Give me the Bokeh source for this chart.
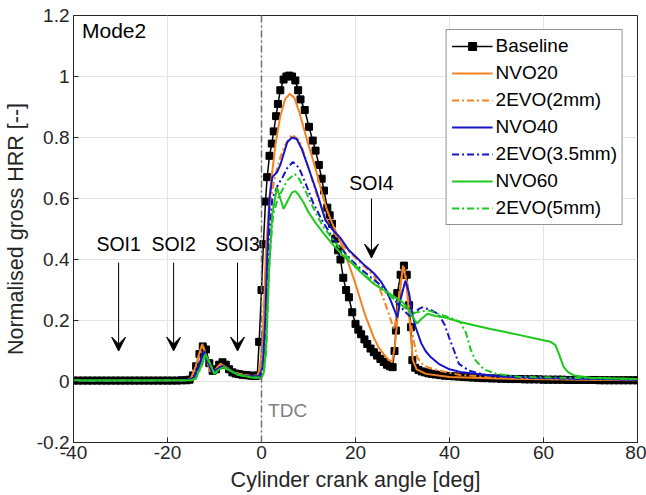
from bokeh.plotting import figure
from bokeh.models import (Span, Arrow, VeeHead, Label, FixedTicker, Range1d)
from bokeh.embed import file_html
from bokeh.resources import INLINE

FONT = "Liberation Sans"
INK = "#262626"

# ---------------- data ----------------
base_x = [-40, -39, -38, -37, -36, -35, -34, -33, -32, -31, -30, -29, -28, -27, -26, -25, -24, -23, -22, -21,
          -20, -19, -18, -17, -16, -15.3, -14.6, -13.9, -13.2, -12.5, -11.8, -11.1, -10.4, -9.7, -9.0, -8.3,
          -7.6, -6.9, -6.2, -5.5, -4.8, -4.1, -3.4, -2.7, -2.0, -1.3, -0.9, -0.5, 0.0, 0.4, 0.85, 1.2, 1.7, 2.2,
          2.6, 3.1, 3.5, 4.0, 4.7, 5.3, 5.9, 6.5, 7.2, 7.8, 8.3, 9.2, 10.1, 10.9, 11.5, 12.2, 12.8, 13.3, 14.0,
          14.5, 15.0, 15.7, 16.3, 16.8, 17.4, 18.0, 18.6, 19.3, 20.0, 20.6, 21.2, 21.9, 22.5, 23.2, 23.9, 24.6,
          25.3, 26.0, 26.7, 27.3, 27.9, 28.3, 28.6, 28.9, 29.6, 30.3, 30.9, 31.4, 31.8, 32.1, 32.7, 33.4, 34.1,
          34.8, 35.5, 36.2, 37.0, 38, 39, 40, 41, 42, 43, 44, 45, 46, 47, 48, 49, 50, 51, 52, 53, 54, 55, 56, 57,
          58, 59, 60, 61, 62, 63, 64, 65, 66, 67, 68, 69, 70, 71, 72, 73, 74, 75, 76, 77, 78, 79, 80]
base_y = [0.003, 0.003, 0.003, 0.003, 0.003, 0.003, 0.003, 0.003, 0.003, 0.003, 0.003, 0.003, 0.003, 0.003,
          0.003, 0.003, 0.003, 0.003, 0.003, 0.003, 0.003, 0.003, 0.003, 0.004, 0.004, 0.006, 0.02, 0.05, 0.09,
          0.115, 0.105, 0.06, 0.035, 0.04, 0.055, 0.063, 0.055, 0.04, 0.03, 0.026, 0.024, 0.022, 0.021, 0.02,
          0.019, 0.018, 0.02, 0.13, 0.3, 0.45, 0.59, 0.67, 0.74, 0.78, 0.82, 0.87, 0.91, 0.955, 0.99, 1.0, 1.003,
          1.0, 0.987, 0.955, 0.925, 0.89, 0.835, 0.79, 0.757, 0.71, 0.665, 0.626, 0.57, 0.545, 0.517, 0.468,
          0.43, 0.40, 0.34, 0.30, 0.276, 0.227, 0.189, 0.17, 0.155, 0.138, 0.123, 0.108, 0.096, 0.085, 0.074,
          0.064, 0.055, 0.05, 0.047, 0.10, 0.167, 0.29, 0.35, 0.38, 0.35, 0.25, 0.178, 0.07, 0.045, 0.038, 0.033,
          0.03, 0.027, 0.025, 0.023, 0.021, 0.019, 0.018, 0.017, 0.016, 0.015, 0.014, 0.013, 0.012, 0.011, 0.011,
          0.010, 0.010, 0.009, 0.009, 0.008, 0.008, 0.008, 0.007, 0.007, 0.007, 0.007, 0.006, 0.006, 0.006,
          0.006, 0.006, 0.005, 0.005, 0.005, 0.005, 0.005, 0.005, 0.005, 0.004, 0.004, 0.004, 0.004, 0.004,
          0.004, 0.004, 0.004, 0.004, 0.004]

nvo20_x = [-40, -16, -15, -14, -13.3, -12.6, -11.8, -11, -10.3, -9.5, -8.7, -7.5, -6, -4, -2, -0.8, -0.3, 0.3,
           1, 2, 3, 4, 5, 6, 7, 8, 9, 10, 11, 12, 13, 14, 15, 16, 17, 18, 19, 20, 21, 22, 23, 24, 25, 26, 27,
           27.8, 28.4, 29.3, 30.1, 30.8, 31.5, 32.2, 33, 35, 40, 50, 60, 80]
nvo20_y = [0.003, 0.004, 0.01, 0.05, 0.09, 0.123, 0.08, 0.035, 0.03, 0.045, 0.058, 0.045, 0.03, 0.022, 0.018,
           0.02, 0.05, 0.15, 0.45, 0.65, 0.78, 0.87, 0.925, 0.943, 0.93, 0.885, 0.83, 0.775, 0.725, 0.67, 0.61,
           0.56, 0.52, 0.485, 0.45, 0.41, 0.365, 0.32, 0.27, 0.22, 0.18, 0.14, 0.11, 0.09, 0.072, 0.063, 0.12,
           0.27, 0.38, 0.33, 0.2, 0.07, 0.04, 0.025, 0.015, 0.01, 0.007, 0.004]

evo2_x = [-40, -16, -15, -14, -13.2, -12.4, -11.6, -10.8, -10, -9.3, -8.5, -7.3, -6, -4, -2, -0.5, 0, 0.5, 1,
          1.5, 2, 3, 4, 5, 6.5, 8, 9, 10, 11, 12, 13, 14, 15, 16, 18, 20, 22, 23, 24, 25, 26, 27, 28.2, 28.8,
          29.5, 30.3, 31, 31.7, 32.3, 33.1, 34, 35.3, 37.7, 42, 50, 60, 80]
evo2_y = [0.003, 0.004, 0.01, 0.045, 0.085, 0.115, 0.08, 0.035, 0.03, 0.045, 0.055, 0.045, 0.03, 0.022, 0.018,
          0.02, 0.04, 0.12, 0.35, 0.52, 0.6, 0.68, 0.735, 0.775, 0.81, 0.79, 0.75, 0.70, 0.65, 0.6, 0.56, 0.525,
          0.5, 0.475, 0.435, 0.405, 0.375, 0.36, 0.345, 0.31, 0.27, 0.225, 0.17, 0.22, 0.32, 0.375, 0.32, 0.2,
          0.14, 0.08, 0.06, 0.047, 0.036, 0.022, 0.013, 0.009, 0.005]

nvo40_x = [-40, -16, -14.5, -13.5, -12.3, -11.5, -10.5, -9.5, -8.3, -7, -5, -3, -1, -0.3, 0.3, 0.8, 1.2, 1.7,
           2.3, 3.3, 4, 4.8, 5.5, 6.5, 7.5, 8.5, 10, 11, 12, 13.6, 15, 16.8, 18.6, 20, 22, 23.9, 25.3, 26.5,
           27.5, 28.9, 29.6, 30.6, 31.4, 32.1, 32.8, 34, 34.9, 36, 37.7, 40, 42.7, 50, 60, 80]
nvo40_y = [0.003, 0.004, 0.01, 0.045, 0.10, 0.07, 0.03, 0.04, 0.05, 0.04, 0.022, 0.018, 0.016, 0.02, 0.06, 0.2,
           0.4, 0.6, 0.67, 0.686, 0.71, 0.75, 0.785, 0.80, 0.795, 0.765, 0.70, 0.655, 0.61, 0.528, 0.50, 0.47,
           0.43, 0.41, 0.38, 0.355, 0.33, 0.3, 0.265, 0.21, 0.27, 0.33, 0.29, 0.22, 0.178, 0.125, 0.10, 0.08,
           0.058, 0.04, 0.03, 0.018, 0.012, 0.006]

evo35_x = [-40, -16, -14.5, -13.5, -12.3, -11.5, -10.5, -9.5, -8.5, -7, -5, -3, -1, 0, 0.5, 1, 1.5, 2.3, 3.5,
           4.5, 5.5, 6.7, 8, 9.5, 11, 13, 15, 17, 19, 21, 23, 25, 27, 29, 30.5, 31.5, 32.5, 33.5, 34.2, 36,
           37.7, 39, 39.9, 41, 42, 44.1, 48, 55, 80]
evo35_y = [0.003, 0.004, 0.01, 0.04, 0.09, 0.065, 0.03, 0.04, 0.048, 0.04, 0.022, 0.018, 0.016, 0.02, 0.06,
           0.2, 0.45, 0.6, 0.645, 0.67, 0.70, 0.72, 0.70, 0.645, 0.585, 0.525, 0.475, 0.435, 0.40, 0.37, 0.345,
           0.32, 0.29, 0.255, 0.23, 0.215, 0.225, 0.238, 0.243, 0.235, 0.22, 0.185, 0.145, 0.10, 0.058, 0.036,
           0.02, 0.012, 0.006]

nvo60_x = [-40, -15, -14, -13, -11.9, -11, -10, -9, -8, -6.5, -5, -2, 0, 0.5, 1, 1.6, 2.3, 3.3, 4, 4.7, 5.5,
           6.5, 7.2, 8, 9, 10, 11.5, 13.5, 15.7, 17.5, 19.3, 21, 23.9, 26, 28.5, 30, 31, 32, 33.1, 34, 35.3, 37,
           39.1, 42.3, 45, 48.7, 51.9, 55, 58, 61.5, 62.5, 63.3, 64.3, 65.3, 66.5, 70, 80]
nvo60_y = [0.003, 0.004, 0.01, 0.045, 0.09, 0.06, 0.025, 0.04, 0.047, 0.035, 0.022, 0.013, 0.012, 0.03, 0.12,
           0.364, 0.55, 0.637, 0.6, 0.566, 0.59, 0.62, 0.624, 0.61, 0.585, 0.555, 0.52, 0.48, 0.44, 0.41, 0.387,
           0.36, 0.32, 0.30, 0.276, 0.26, 0.243, 0.215, 0.19, 0.205, 0.222, 0.215, 0.21, 0.195, 0.185, 0.172,
           0.162, 0.152, 0.142, 0.13, 0.12, 0.09, 0.047, 0.03, 0.02, 0.012, 0.008]

evo5_x = [-40, -15, -14, -13, -11.9, -11, -10, -9, -8, -6.5, -5, -2, 0, 0.5, 1, 1.7, 2.5, 3.5, 4.5, 5.5, 7.1, 8,
          9.5, 11, 13, 15, 17, 19, 21, 23, 25, 27, 29, 31.3, 32.5, 34, 35.6, 38, 40, 42.3, 43.5, 44.5, 45.5,
          47.3, 50, 55, 80]
evo5_y = [0.003, 0.004, 0.01, 0.04, 0.085, 0.06, 0.025, 0.04, 0.045, 0.035, 0.022, 0.013, 0.012, 0.03, 0.1,
          0.4, 0.55, 0.6, 0.63, 0.66, 0.68, 0.665, 0.62, 0.57, 0.51, 0.47, 0.43, 0.395, 0.365, 0.335, 0.31,
          0.285, 0.26, 0.233, 0.225, 0.23, 0.233, 0.22, 0.21, 0.195, 0.16, 0.105, 0.07, 0.04, 0.025, 0.015,
          0.008]

x_ticks = [-40, -20, 0, 20, 40, 60, 80]
x_tick_labels = ["-40", "-20", "0", "20", "40", "60", "80"]
y_ticks = [-0.2, 0, 0.2, 0.4, 0.6, 0.8, 1.0, 1.2]
y_tick_labels = ["-0.2", "0", "0.2", "0.4", "0.6", "0.8", "1", "1.2"]

soi_labels = ["SOI1", "SOI2", "SOI3", "SOI4"]
soi_x = [-30.4, -18.7, -5.1, 23.4]
soi_text_y = [0.452, 0.452, 0.452, 0.65]
soi_arrow_top = [0.39, 0.39, 0.39, 0.60]
soi_arrow_tip = [0.10, 0.10, 0.10, 0.405]

ORANGE = "#f58220"
BLUE = "#1414c8"
GREEN = "#1ec81e"
DASHDOT = "7 3 2 3"

# ---------------- figure ----------------
p = figure(frame_width=564, frame_height=427, output_backend="svg", toolbar_location=None,
           x_range=Range1d(-40, 80), y_range=Range1d(-0.2, 1.2),
           min_border_left=73, min_border_right=9, min_border_top=15, min_border_bottom=53)
p.background_fill_color = "white"
p.border_fill_color = "white"
p.outline_line_color = INK
p.outline_line_width = 1

for ax in (p.xaxis[0], p.yaxis[0]):
    ax.axis_line_color = INK
    ax.major_tick_in = 5
    ax.major_tick_out = 0
    ax.minor_tick_line_color = None
    ax.major_tick_line_color = INK
    ax.major_label_text_font = FONT
    ax.major_label_text_font_size = "19px"
    ax.major_label_text_color = INK
    ax.axis_label_text_font = FONT
    ax.axis_label_text_font_size = "21.5px"
    ax.axis_label_text_font_style = "normal"
    ax.axis_label_text_color = INK

p.xaxis[0].ticker = FixedTicker(ticks=x_ticks)
p.xaxis[0].major_label_overrides = dict(zip(x_ticks, x_tick_labels))
p.yaxis[0].ticker = FixedTicker(ticks=y_ticks)
p.yaxis[0].major_label_overrides = dict(zip(y_ticks, y_tick_labels))
p.xaxis[0].axis_label = "Cylinder crank angle [deg]"
p.yaxis[0].axis_label = "Normalised gross HRR [--]"
p.xaxis[0].major_label_standoff = 3
p.yaxis[0].major_label_standoff = 4
p.xaxis[0].axis_label_standoff = 6
p.yaxis[0].axis_label_standoff = 6

p.xgrid.ticker = FixedTicker(ticks=x_ticks)
p.ygrid.ticker = FixedTicker(ticks=y_ticks)
p.xgrid.grid_line_color = "#e3e3e3"
p.ygrid.grid_line_color = "#e3e3e3"

# curves
p.line(base_x, base_y, line_color="black", line_width=1.5, legend_label="Baseline")
p.scatter(base_x, base_y, marker="square", size=7, fill_color="black", line_color="black",
          legend_label="Baseline")
p.line(nvo20_x, nvo20_y, line_color=ORANGE, line_width=2, legend_label="NVO20")
p.line(evo2_x, evo2_y, line_color=ORANGE, line_width=2, line_dash=DASHDOT, legend_label="2EVO(2mm)")
p.line(nvo40_x, nvo40_y, line_color=BLUE, line_width=2, legend_label="NVO40")
p.line(evo35_x, evo35_y, line_color=BLUE, line_width=2, line_dash=DASHDOT, legend_label="2EVO(3.5mm)")
p.line(nvo60_x, nvo60_y, line_color=GREEN, line_width=2, legend_label="NVO60")
p.line(evo5_x, evo5_y, line_color=GREEN, line_width=2, line_dash=DASHDOT, legend_label="2EVO(5mm)")

# TDC line
p.add_layout(Span(location=0, dimension="height", line_color="#707070", line_width=1.5,
                  line_dash=DASHDOT))
p.add_layout(Label(x=1.4, y=-0.095, text="TDC", text_font=FONT, text_font_size="19px",
                   text_color="#808080", text_baseline="middle", text_align="left"))
p.add_layout(Label(x=-38.2, y=1.15, text="Mode2", text_font=FONT, text_font_size="21px",
                   text_color="black", text_baseline="middle", text_align="left"))

for lab, sx, ty, a0, a1 in zip(soi_labels, soi_x, soi_text_y, soi_arrow_top, soi_arrow_tip):
    p.add_layout(Label(x=sx, y=ty, text=lab, text_font=FONT, text_font_size="19.5px",
                       text_color="black", text_baseline="middle", text_align="center"))
    p.add_layout(Arrow(end=VeeHead(size=14, fill_color="black", line_color="black"),
                       x_start=sx, y_start=a0, x_end=sx, y_end=a1, line_color="black", line_width=1))

leg = p.legend[0]
leg.location = "top_right"
leg.margin = 14
leg.padding = 5
leg.spacing = 5
leg.glyph_width = 41
leg.glyph_height = 20
leg.label_height = 20
leg.label_standoff = 3
leg.label_text_font = FONT
leg.label_text_font_size = "19px"
leg.label_text_color = "black"
leg.border_line_color = INK
leg.border_line_width = 1
leg.background_fill_alpha = 1

open("out.html", "w").write(file_html(p, INLINE))
